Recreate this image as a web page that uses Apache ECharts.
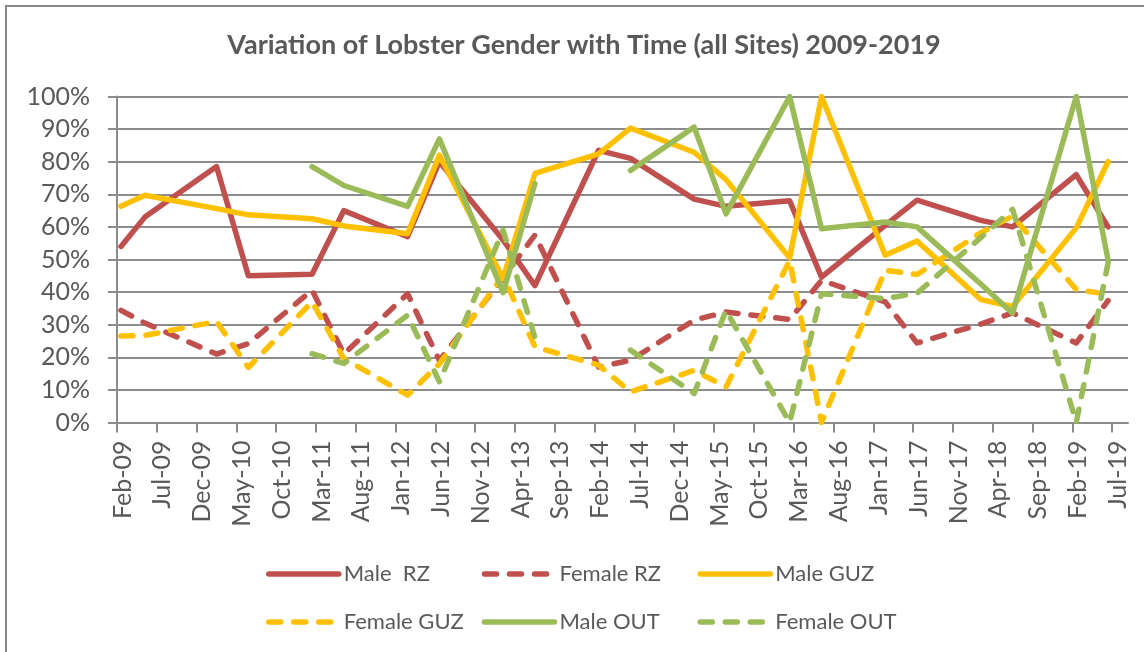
<!DOCTYPE html>
<html>
<head>
<meta charset="utf-8">
<title>Variation of Lobster Gender with Time</title>
<script src="https://cdn.jsdelivr.net/npm/echarts@6/dist/echarts.min.js"></script>
<style>
  html, body { margin: 0; padding: 0; background: #fff; }
  #chart { width: 1144px; height: 652px; }
</style>
</head>
<body>
<div id="chart"></div>
<script>
// sampling dates (year-month); values are the share of each gender in %
const sampleDates = ['2009-02', '2009-05', '2010-02', '2010-06', '2011-02', '2011-06', '2012-02', '2012-06',
  '2013-02', '2013-06', '2014-02', '2014-06', '2015-02', '2015-06', '2016-02', '2016-06',
  '2017-02', '2017-06', '2018-02', '2018-06', '2019-02', '2019-06'];

const maleRZ    = [54, 63, 78.5, 45, 45.5, 65, 57, 80, 56, 42, 83.5, 81, 68.5, 66.3, 68, 44.6, 60.5, 68.2, 62, 60, 76, 60];
const femaleRZ  = [34.4, 30.5, 21, 24.2, 40.6, 21, 39.5, 19, 44.4, 57.5, 17, 19.1, 31.4, 33.9, 31.6, 43.6, 37, 24.4, 30.2, 33.6, 24.4, 37.4];
const maleGUZ   = [66.3, 69.7, 65.6, 63.7, 62.5, 60.3, 57.9, 82, 44.2, 76.4, 82.4, 90.3, 82.9, 74.5, 50.5, 100, 51.3, 55.7, 37.7, 35.6, 59.7, 80];
const femaleGUZ = [26.5, 26.7, 31, 16.9, 37, 19.6, 8.4, 18, 45, 23.2, 17.6, 9.4, 16, 10.9, 49.7, 0, 46.7, 45.4, 58.2, 63.3, 40.8, 39.3];
// null = no sampling at OUT (line is broken there)
const maleOUT   = [null, null, null, null, 78.5, 72.7, 66.3, 87, 39.8, 73.3, null, 77.3, 90.6, 64, 100, 59.4, 61.5, 60, 42.5, 33.5, 100, 49.8];
const femaleOUT = [null, null, null, null, 21.1, 18.1, 32.9, 12.5, 59, 26, null, 22.2, 8.9, 34.4, 0, 39.5, 38, 39.7, 56.7, 65.4, 0, 49];

const xTickLabels = ['Feb-09', 'Jul-09', 'Dec-09', 'May-10', 'Oct-10', 'Mar-11', 'Aug-11', 'Jan-12', 'Jun-12',
  'Nov-12', 'Apr-13', 'Sep-13', 'Feb-14', 'Jul-14', 'Dec-14', 'May-15', 'Oct-15', 'Mar-16', 'Aug-16',
  'Jan-17', 'Jun-17', 'Nov-17', 'Apr-18', 'Sep-18', 'Feb-19', 'Jul-19'];

const RED = '#C0504D';
const YELLOW = '#FFC000';
const GREEN = '#9BBB59';
const GRID_GREY = '#8c8c8c';
const TEXT_GREY = '#595959';
const FONT = 'Lato, "Noto Sans", sans-serif';
const LINE_W = 5.5;
const DASH = [12, 13]; // with round caps this gives ~17px dashes and ~8px gaps

// months counted from Feb-09; each month is one slot, points sit in the middle of their slot
const monthIndex = d => {
  const [y, m] = d.split('-').map(Number);
  return (y - 2009) * 12 + (m - 2);
};
const toPoints = values => values.map((v, i) => [monthIndex(sampleDates[i]) + 0.5, v]);

const tickValues = xTickLabels.map((_, i) => i * 5);
const LABEL_SHIFT = 0.7; // Excel draws the rotated labels a little right of the tick
const labelValues = tickValues.map(v => v + LABEL_SHIFT);

const makeSeries = (name, values, color, dashed) => ({
  name,
  type: 'line',
  data: toPoints(values),
  symbol: 'none',
  connectNulls: false,
  animation: false,
  lineStyle: { color, width: LINE_W, type: dashed ? DASH : 'solid', cap: 'round', join: 'round' },
  itemStyle: { color },
});

const legendBase = {
  left: 261,
  orient: 'horizontal',
  padding: 5,
  itemWidth: 70,
  itemHeight: 14,
  itemGap: 8,
  // hide the marker ECharts puts in the middle of a line legend icon
  itemStyle: { opacity: 0 },
  lineStyle: { width: LINE_W, cap: 'round' },
  textStyle: { fontFamily: FONT, fontSize: 22, color: TEXT_GREY, width: 130, lineHeight: 26 },
};

const chart = echarts.init(document.getElementById('chart'));
chart.setOption({
  backgroundColor: '#fff',
  animation: false,
  grid: { left: 117, right: 16, top: 96.5, bottom: 229.5, containLabel: false },
  graphic: [
    {
      type: 'rect',
      silent: true,
      shape: { x: 6, y: 6, width: 1200, height: 700 },
      style: { fill: 'none', stroke: '#8a8a8a', lineWidth: 2 },
    },
    {
      type: 'text',
      silent: true,
      x: 584,
      y: 45,
      style: {
        text: 'Variation of Lobster Gender with Time (all Sites) 2009-2019',
        font: 'bold 27px ' + FONT,
        fill: TEXT_GREY,
        align: 'center',
        verticalAlign: 'middle',
      },
    },
  ],
  legend: [
    Object.assign({}, legendBase, { top: 556, data: ['Male  RZ', 'Female RZ', 'Male GUZ'] }),
    Object.assign({}, legendBase, { top: 604, data: ['Female GUZ', 'Male OUT', 'Female OUT'] }),
  ],
  xAxis: {
    type: 'value',
    min: 0,
    max: 127,
    interval: 5,
    splitLine: { show: false },
    axisLine: { show: true, onZero: false, lineStyle: { color: GRID_GREY, width: 2 } },
    axisTick: { show: true, length: 10, customValues: tickValues, lineStyle: { color: GRID_GREY, width: 2 } },
    axisLabel: {
      customValues: labelValues,
      rotate: 90,
      margin: 18,
      fontFamily: FONT,
      fontSize: 25,
      color: TEXT_GREY,
      formatter: v => xTickLabels[Math.round((v - LABEL_SHIFT) / 5)] || '',
    },
  },
  yAxis: {
    type: 'value',
    min: 0,
    max: 100,
    interval: 10,
    axisLine: { show: true, lineStyle: { color: GRID_GREY, width: 2 } },
    axisTick: { show: true, length: 9, lineStyle: { color: GRID_GREY, width: 2 } },
    splitLine: { show: true, lineStyle: { color: GRID_GREY, width: 2 } },
    axisLabel: { margin: 27, fontFamily: FONT, fontSize: 25, color: TEXT_GREY, formatter: '{value}%' },
  },
  series: [
    makeSeries('Male  RZ', maleRZ, RED, false),
    makeSeries('Female RZ', femaleRZ, RED, true),
    makeSeries('Male GUZ', maleGUZ, YELLOW, false),
    makeSeries('Female GUZ', femaleGUZ, YELLOW, true),
    makeSeries('Male OUT', maleOUT, GREEN, false),
    makeSeries('Female OUT', femaleOUT, GREEN, true),
  ],
});
</script>
</body>
</html>
